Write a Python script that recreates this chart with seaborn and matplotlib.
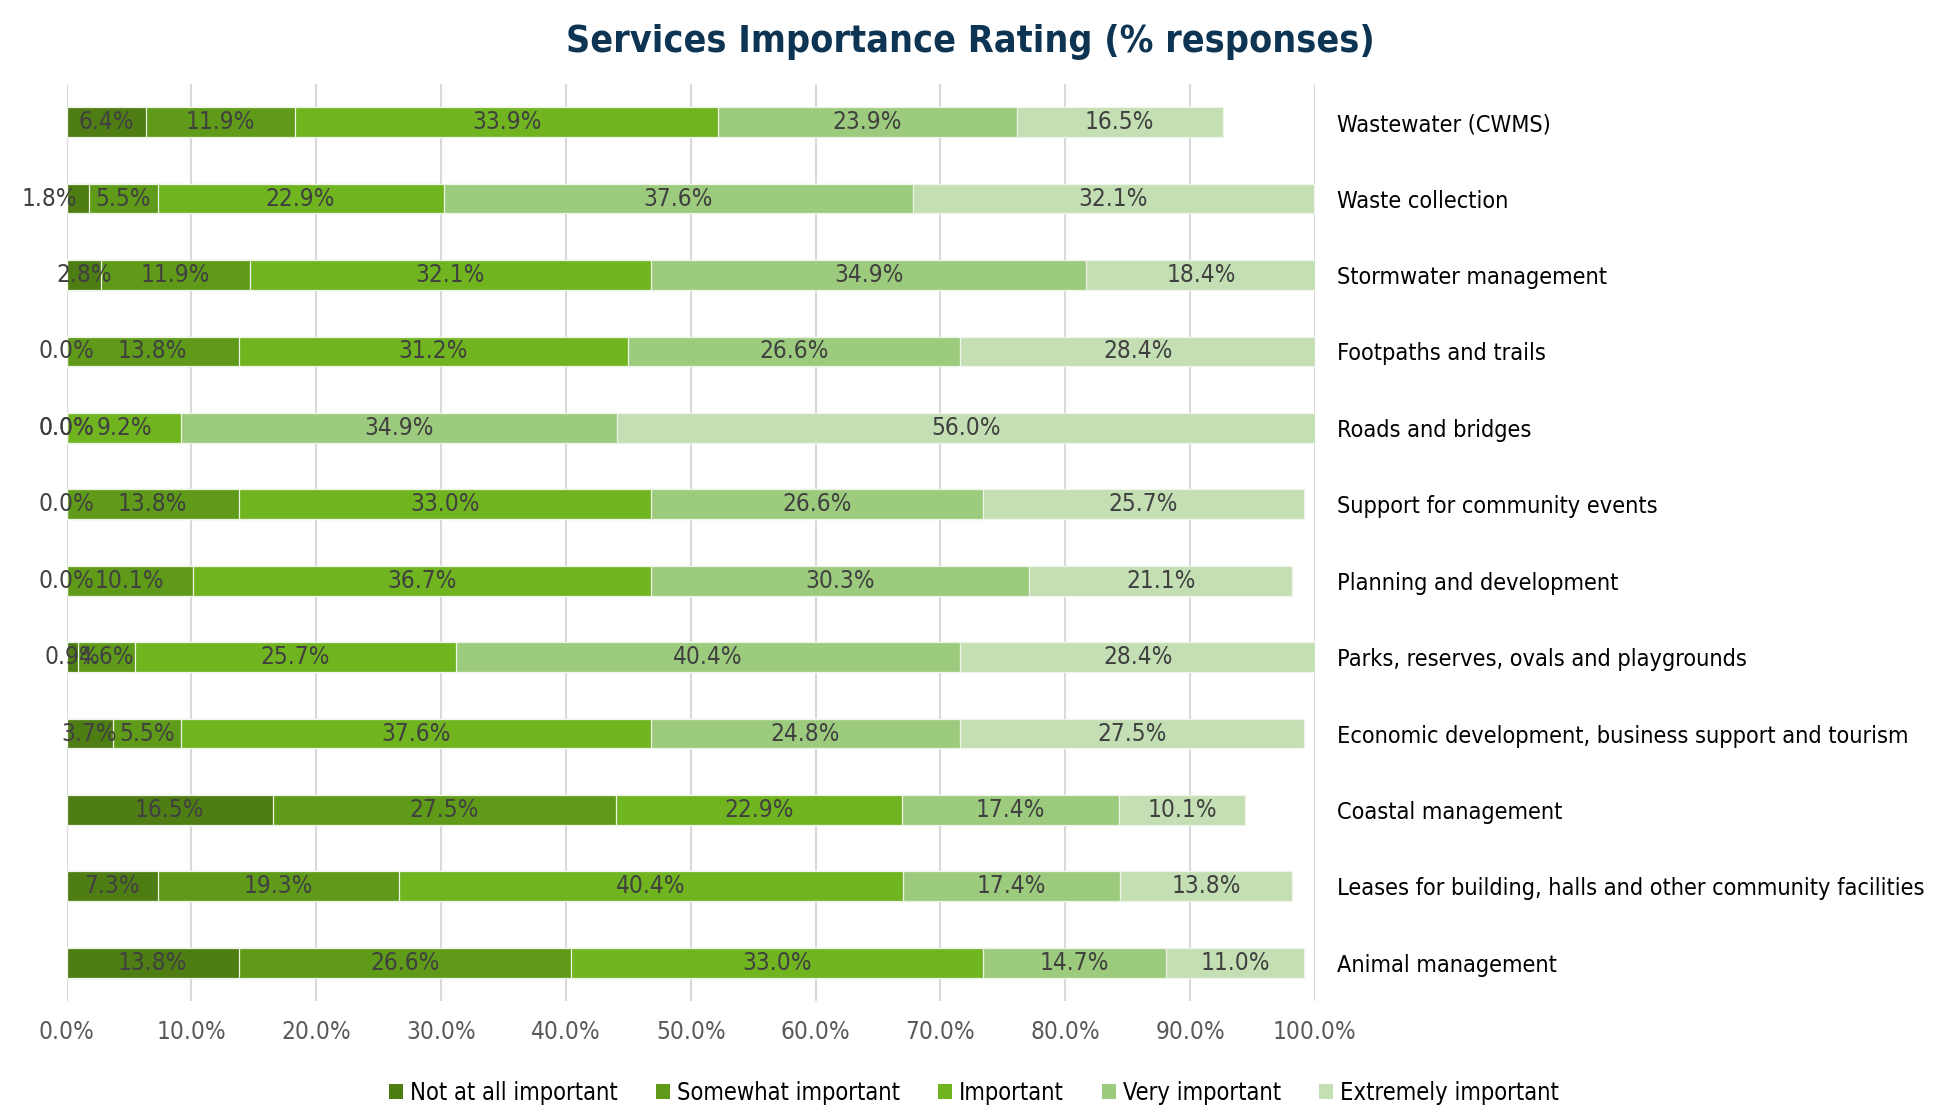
import matplotlib
matplotlib.use("Agg")
import matplotlib.pyplot as plt
from matplotlib.patches import Patch
import numpy as np
import pandas as pd
import seaborn as sns

# Services, listed top to bottom
services = [
    "Wastewater (CWMS)",
    "Waste collection",
    "Stormwater management",
    "Footpaths and trails",
    "Roads and bridges",
    "Support for community events",
    "Planning and development",
    "Parks, reserves, ovals and playgrounds",
    "Economic development, business support and tourism",
    "Coastal management",
    "Leases for building, halls and other community facilities",
    "Animal management",
]

ratings = [
    "Not at all important",
    "Somewhat important",
    "Important",
    "Very important",
    "Extremely important",
]

# Percentage of responses per rating
not_at_all = [6.4, 1.8, 2.8, 0.0, 0.0, 0.0, 0.0, 0.9, 3.7, 16.5, 7.3, 13.8]
somewhat = [11.9, 5.5, 11.9, 13.8, 0.0, 13.8, 10.1, 4.6, 5.5, 27.5, 19.3, 26.6]
important = [33.9, 22.9, 32.1, 31.2, 9.2, 33.0, 36.7, 25.7, 37.6, 22.9, 40.4, 33.0]
very = [23.9, 37.6, 34.9, 26.6, 34.9, 26.6, 30.3, 40.4, 24.8, 17.4, 17.4, 14.7]
extremely = [16.5, 32.1, 18.4, 28.4, 56.0, 25.7, 21.1, 28.4, 27.5, 10.1, 13.8, 11.0]

colors = ["#4e7d14", "#5f9b19", "#70b420", "#9dcb7d", "#c3dfb3"]

x_ticks = [0, 10, 20, 30, 40, 50, 60, 70, 80, 90, 100]

series = [not_at_all, somewhat, important, very, extremely]
values = np.array(series)               # shape (ratings, services)
cumulative = np.cumsum(values, axis=0)  # right edge of each segment

sns.set_theme(style="white")
plt.rcParams["font.family"] = ["DejaVu Sans"]
plt.rcParams["font.stretch"] = "condensed"

fig = plt.figure(figsize=(19.34, 11.09), dpi=100)
ax = fig.add_axes([0.0344, 0.0974, 0.6455, 0.8269])

# Stacked bars: draw cumulative totals from the outermost segment inwards
for k in range(len(ratings) - 1, -1, -1):
    df = pd.DataFrame({"Service": services, "Total": cumulative[k]})
    sns.barplot(
        data=df, x="Total", y="Service", order=services, orient="h",
        color=colors[k], saturation=1, width=0.39, errorbar=None,
        edgecolor="#eef4e8", linewidth=0.9, ax=ax, zorder=2,
    )

# Segment value labels
label_nudge = {(0, 1): -2.3}  # keep the small 1.8% label clear of its neighbour
for k in range(len(ratings)):
    for i in range(len(services)):
        v = values[k, i]
        centre = cumulative[k, i] - v / 2 + label_nudge.get((k, i), 0.0)
        ax.text(centre, i, f"{v:.1f}%", ha="center", va="center",
                fontsize=17.5, color="#404040", zorder=5)

ax.set_xlim(0, 100)
ax.set_ylim(len(services) - 0.5, -0.5)
ax.set_xticks(x_ticks)
ax.set_xticklabels([f"{t:.1f}%" for t in x_ticks])
ax.set_xlabel("")
ax.set_ylabel("")
ax.xaxis.grid(True, color="#d9d9d9", linewidth=1.5, zorder=0)
ax.set_axisbelow(True)
for s in ax.spines.values():
    s.set_visible(False)

ax.tick_params(axis="x", length=0, pad=14, labelsize=17.5, labelcolor="#595959")
ax.yaxis.tick_right()
ax.tick_params(axis="y", length=0, pad=16, labelsize=16.8, labelcolor="#000000")
for lab in ax.get_yticklabels():
    lab.set_ha("left")

fig.suptitle("Services Importance Rating (% responses)", x=0.5015, y=0.978,
             fontsize=27, fontweight="bold", color="#0d3553")

handles = [Patch(facecolor=c, edgecolor="none") for c in colors]
fig.legend(handles, ratings, loc="center", bbox_to_anchor=(0.5036, 1 - 1093 / 1109),
           ncol=5, frameon=False, fontsize=17, handlelength=0.6, handleheight=0.6,
           handletextpad=0.3, columnspacing=1.6, labelcolor="#000000")

fig.savefig("out.png", dpi=100, facecolor="white")
